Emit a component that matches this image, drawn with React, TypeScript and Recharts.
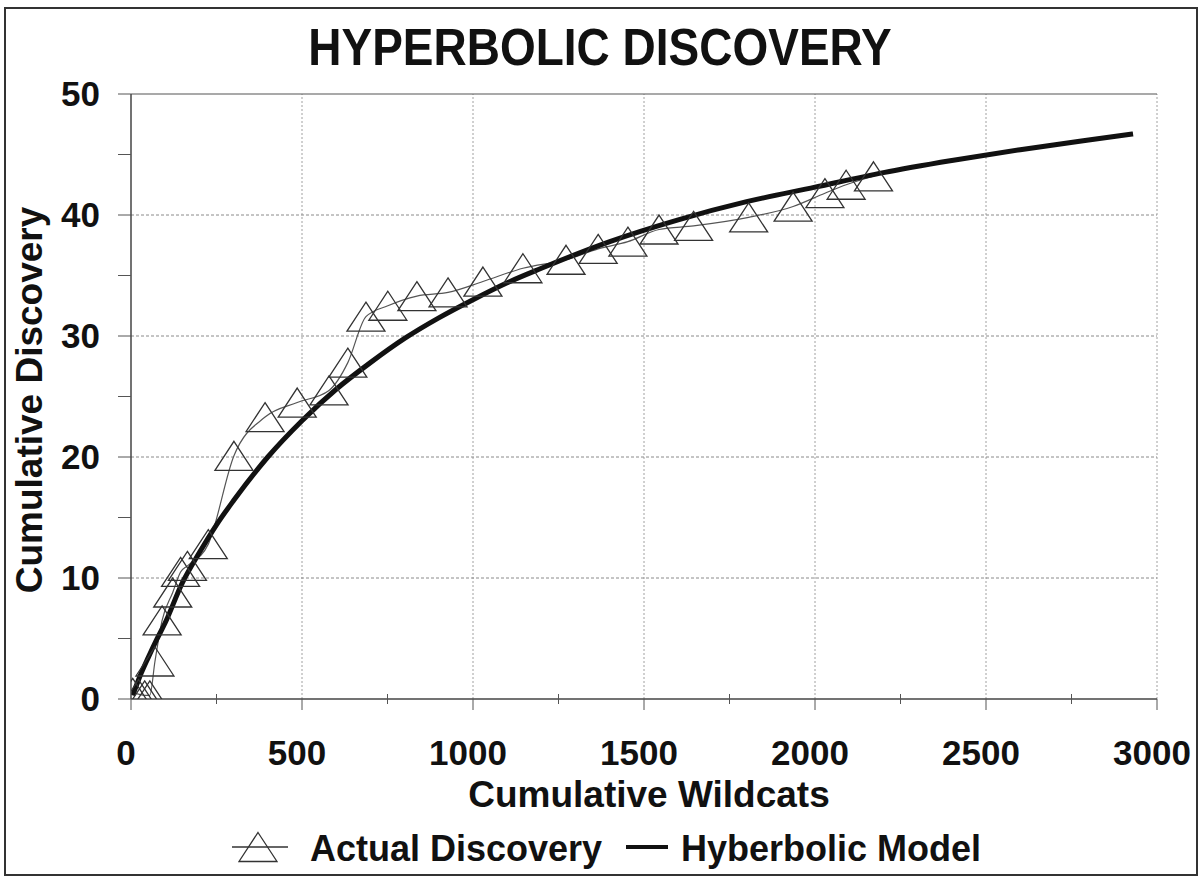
import React from 'react';
import { LineChart, Line, XAxis, YAxis, ReferenceLine } from 'recharts';

const actualWildcats = [5, 22, 40, 55, 70, 91, 122, 145, 165, 226, 301, 392, 486, 579, 634, 687, 751, 836, 927, 1029, 1146, 1272, 1366, 1453, 1544, 1645, 1806, 1936, 2029, 2091, 2171];
const actualDiscovery = [0.5, 0.4, 0.3, 0.3, 3.1, 6.5, 8.8, 10.5, 11.0, 12.8, 20.1, 23.3, 24.5, 25.5, 27.8, 31.6, 32.5, 33.3, 33.6, 34.5, 35.6, 36.3, 37.2, 37.8, 38.8, 39.1, 39.8, 40.7, 41.8, 42.5, 43.2];

const modelWildcats = [5, 25, 50, 75, 100, 150, 200, 250, 300, 400, 500, 600, 700, 800, 900, 1000, 1100, 1200, 1400, 1600, 1800, 2000, 2200, 2400, 2600, 2800, 2930];
const modelDiscovery = [0.3, 1.8, 3.4, 4.9, 6.3, 9.6, 12.1, 14.4, 16.4, 20.0, 23.0, 25.6, 27.8, 29.8, 31.5, 33.0, 34.4, 35.6, 37.8, 39.6, 41.1, 42.3, 43.5, 44.5, 45.4, 46.2, 46.7];

const xTicks = [0, 250, 500, 750, 1000, 1250, 1500, 1750, 2000, 2250, 2500, 2750, 3000];
const xGrid = [500, 1000, 1500, 2000, 2500, 3000];
const yTicks = [0, 5, 10, 15, 20, 25, 30, 35, 40, 45, 50];
const yGrid = [10, 20, 30, 40];

const title = 'HYPERBOLIC DISCOVERY';
const xTitle = 'Cumulative Wildcats';
const yTitle = 'Cumulative Discovery';
const seriesNames = ['Actual Discovery', 'Hyberbolic Model'];

const actualData = actualWildcats.map((x, i) => ({ x, y: actualDiscovery[i] }));
const modelData = modelWildcats.map((x, i) => ({ x, y: modelDiscovery[i] }));

const FONT = '"Liberation Sans", Arial, Helvetica, sans-serif';
const TRI_W = 19;
const TRI_H = 14.5;

const triPath = (cx: number, cy: number) =>
  `M${cx},${cy - TRI_H} L${cx + TRI_W},${cy + TRI_H} L${cx - TRI_W},${cy + TRI_H} Z`;

const TriangleDot = (props: any) => {
  const { cx, cy, index } = props;
  if (cx == null || cy == null) return <g key={`t${index}`} />;
  return <path key={`t${index}`} d={triPath(cx, cy)} fill="none" stroke="#333" strokeWidth={1.3} />;
};

const XTick = (props: any) => {
  const { x, y, payload } = props;
  const v = payload.value as number;
  const major = v % 500 === 0;
  return (
    <g>
      <line x1={x} x2={x} y1={major ? y : y - 5} y2={y + (major ? 11 : 5)} stroke="#555" strokeWidth={1} />
      {major && (
        <text x={x - 5} y={y + 66} textAnchor="middle" fontSize={35} fontWeight="bold" fontFamily={FONT} fill="#111">
          {v}
        </text>
      )}
    </g>
  );
};

const YTick = (props: any) => {
  const { x, y, payload } = props;
  const v = payload.value as number;
  const major = v % 10 === 0;
  return (
    <g>
      <line x1={x - 13} x2={x} y1={y} y2={y} stroke="#555" strokeWidth={1} />
      {major && (
        <text x={x - 31} y={y + 12} textAnchor="end" fontSize={35} fontWeight="bold" fontFamily={FONT} fill="#111">
          {v}
        </text>
      )}
    </g>
  );
};

export default function App() {
  return (
    <div style={{ position: 'absolute', left: 0, top: 0, width: 1203, height: 881, background: '#fff' }}>
      <div style={{ position: 'absolute', left: 0, top: 0 }}>
        <LineChart width={1203} height={881} margin={{ top: 94, right: 46, bottom: 122, left: 51 }}>
          <XAxis
            type="number"
            dataKey="x"
            domain={[0, 3000]}
            ticks={xTicks}
            interval={0}
            height={60}
            tickSize={0}
            tickMargin={0}
            tick={<XTick />}
            tickLine={false}
            axisLine={{ stroke: '#444', strokeWidth: 1.5 }}
            allowDataOverflow
          />
          <YAxis
            type="number"
            dataKey="y"
            domain={[0, 50]}
            ticks={yTicks}
            interval={0}
            width={80}
            tickSize={0}
            tickMargin={0}
            tick={<YTick />}
            tickLine={false}
            axisLine={{ stroke: '#444', strokeWidth: 1.5 }}
            allowDataOverflow
          />
          {xGrid.map((v) => (
            <ReferenceLine key={`gx${v}`} x={v} stroke="#a0a0a0" strokeWidth={1} strokeDasharray="2 2" />
          ))}
          {yGrid.map((v) => (
            <ReferenceLine key={`gy${v}`} y={v} stroke="#8a8a8a" strokeWidth={1} strokeDasharray="3 2" />
          ))}
          <ReferenceLine y={50} stroke="#555" strokeWidth={1.2} />
          <Line
            data={actualData}
            dataKey="y"
            type="monotone"
            stroke="#555"
            strokeWidth={1.2}
            dot={TriangleDot}
            activeDot={false}
            isAnimationActive={false}
            name={seriesNames[0]}
          />
          <Line
            data={modelData}
            dataKey="y"
            type="monotone"
            stroke="#111"
            strokeWidth={5}
            dot={false}
            activeDot={false}
            isAnimationActive={false}
            name={seriesNames[1]}
          />
        </LineChart>
      </div>
      <svg
        width={1203}
        height={881}
        style={{ position: 'absolute', left: 0, top: 0, pointerEvents: 'none' }}
        fontFamily={FONT}
      >
        <rect x={5} y={8} width={1192} height={867} fill="none" stroke="#333" strokeWidth={2} />
        <text transform="translate(600,65) scale(1,1.12)" textAnchor="middle" fontSize={46} fontWeight="bold" fill="#111">
          {title}
        </text>
        <text x={649} y={807} textAnchor="middle" fontSize={37} fontWeight="bold" fill="#111">
          {xTitle}
        </text>
        <text transform="translate(42,400) rotate(-90)" textAnchor="middle" fontSize={37} fontWeight="bold" fill="#111">
          {yTitle}
        </text>
        <line x1={232} x2={288} y1={847} y2={847} stroke="#333" strokeWidth={1.3} />
        <path d={triPath(258, 847)} fill="none" stroke="#333" strokeWidth={1.3} />
        <text x={310} y={861} fontSize={36} fontWeight="bold" fill="#111">
          {seriesNames[0]}
        </text>
        <line x1={626} x2={668} y1={847} y2={847} stroke="#111" strokeWidth={4} />
        <text x={681} y={861} fontSize={36} fontWeight="bold" fill="#111">
          {seriesNames[1]}
        </text>
      </svg>
    </div>
  );
}
